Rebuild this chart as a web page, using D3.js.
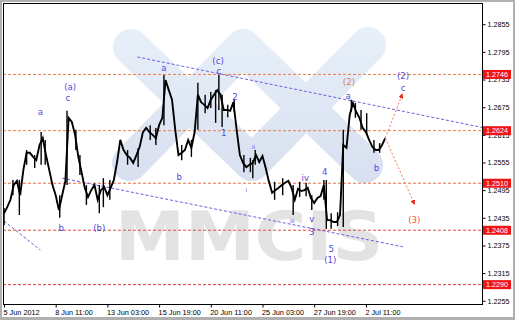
<!DOCTYPE html>
<html><head><meta charset="utf-8">
<script src="https://cdn.jsdelivr.net/npm/d3@7"></script>
<style>body{margin:0;background:#fff}svg{display:block}</style>
</head><body><svg id="c" width="515" height="320"></svg>
<script>
// ---- data ----
// closes sampled every 4 hourly bars, starting 5 Jun 2012
const closes = [
1.2445,1.2458,1.2474,1.2506,1.2515,1.2484,1.2539,1.2576,1.2576,1.2567,
1.2560,1.2593,1.2608,1.2571,1.2539,1.2506,1.2484,1.2452,1.2484,1.2515,
1.2652,1.2643,1.2615,1.2567,1.2534,1.2500,1.2480,1.2495,1.2506,1.2474,
1.2495,1.2502,1.2484,1.2500,1.2517,1.2556,1.2604,1.2582,1.2571,1.2565,
1.2554,1.2571,1.2589,1.2621,1.2630,1.2621,1.2615,1.2608,1.2636,1.2652,
1.2734,1.2712,1.2691,1.2626,1.2571,1.2576,1.2582,1.2604,1.2587,1.2621,
1.2702,1.2686,1.2680,1.2673,1.2691,1.2702,1.2712,1.2702,1.2669,1.2669,
1.2667,1.2686,1.2626,1.2571,1.2554,1.2545,1.2550,1.2554,1.2571,1.2556,
1.2569,1.2543,1.2513,1.2489,1.2495,1.2500,1.2506,1.2511,1.2515,1.2500,
1.2474,1.2498,1.2493,1.2495,1.2500,1.2478,1.2467,1.2478,1.2482,1.2506,
1.2430,1.2430,1.2426,1.2426,1.2441,1.2593,1.2587,1.2658,1.2684,1.2665,
1.2652,1.2630,1.2621,1.2604,1.2589,1.2582,1.2582,1.2593,1.2608
];
const barsPerClose = 4;
// [bar index, high, low]
const wicks = [
[0,1.2456,1.2419],[11,1.2517,1.2484],[19,1.2517,1.2441],[28,1.2582,1.2550],
[38,1.2571,1.2543],[46,1.2621,1.2550],[51,1.2604,1.2550],[69,1.2484,1.2435],
[78,1.2667,1.2506],[89,1.2626,1.2582],[94,1.2571,1.2528],[102,1.2506,1.2463],
[118,1.2506,1.2445],[123,1.2521,1.2458],[131,1.2517,1.2474],[153,1.2582,1.2550],
[166,1.2586,1.2545],[181,1.2636,1.2604],[188,1.2630,1.2593],[198,1.2745,1.2636],
[220,1.2593,1.2560],[232,1.2604,1.2567],[240,1.2728,1.2626],[249,1.2702,1.2662],
[256,1.2708,1.2673],[262,1.2712,1.2641],[266,1.2745,1.2669],[270,1.2702,1.2632],
[277,1.2680,1.2653],[285,1.2691,1.2665],[297,1.2571,1.2534],[305,1.2565,1.2534],
[308,1.2560,1.2521],[311,1.2582,1.2550],[335,1.2513,1.2474],[345,1.2521,1.2484],
[358,1.2506,1.2441],[366,1.2513,1.2480],[374,1.2511,1.2482],[381,1.2484,1.2452],
[396,1.2517,1.2474],[399,1.2517,1.2411],[405,1.2445,1.2411],[413,1.2447,1.2417],
[420,1.2626,1.2415],[430,1.2691,1.2665],[435,1.2684,1.2652],[442,1.2669,1.2626],
[449,1.2662,1.2615],[458,1.2604,1.2576],[465,1.2597,1.2576]
];
const levels = [1.2746,1.2624,1.2510,1.2408,1.2290];
const levelColors = ["#ec7e4c","#ec7e4c","#ea6c42","#e4523a","#e03a30"];
const yTicks = [1.2255,1.2315,1.2375,1.2435,1.2495,1.2555,1.2615,1.2675,1.2735,1.2795,1.2855];
const xTickBars = [0,64,128,192,256,320,384,448];
const xTickLabels = ["5 Jun 2012","8 Jun 11:00","13 Jun 03:00","15 Jun 19:00","20 Jun 11:00","25 Jun 03:00","27 Jun 19:00","2 Jul 11:00"];
const trendlines = [
  [[165,1.2784],[592,1.2631]],
  [[72,1.2521],[494,1.2372]],
  [[0,1.2428],[45,1.2365]]
];
const arrows = [
  [[472,1.2608],[493,1.2703]],
  [[472,1.2608],[508,1.2465]]
];
// [text, bar index, price, kind]
const waveLabels = [
["a",45,1.2665,"b"],["(a)",82,1.2719,"b"],["c",79,1.2695,"b"],
["a",198,1.2760,"b"],["(c)",265,1.2775,"b"],["c",266,1.2754,"b"],
["2",286,1.2697,"b"],["1",272,1.2619,"b"],["b",71,1.2413,"b"],
["(b)",118,1.2413,"b"],["b",217,1.2524,"b"],["i",300,1.2495,"s"],
["ii",309,1.2589,"s"],["iii",357,1.2427,"s"],["iv",373,1.2521,"b"],
["v",381,1.2433,"b"],["3",381,1.2404,"b"],["4",397,1.2534,"b"],
["5",405,1.2367,"b"],["(1)",404,1.2343,"b"],["(2)",427,1.2730,"o"],
["a",426,1.2699,"b"],["b",461,1.2543,"b"],["(2)",494,1.2743,"b"],
["c",494,1.2717,"b"],["(3)",508,1.2430,"r"]
];

// ---- drawing ----
const W=515,H=320, L=3,R=482,T=3,B=304;
const svg = d3.select('#c');
const defs = svg.append('defs');
svg.append('rect').attr('width',W).attr('height',H).attr('fill','#b0b0b0');
svg.append('rect').attr('x',2).attr('y',2).attr('width',511).attr('height',315).attr('fill','#fff');

const x = d3.scaleLinear().domain([0,592]).range([4,482.2]);
const y = d3.scaleLinear().domain([1.2248,1.2901]).range([B,T]);

defs.append('clipPath').attr('id','clip').append('rect')
  .attr('x',L).attr('y',T).attr('width',R-L).attr('height',B-T);
const g = svg.append('g').attr('clip-path','url(#clip)');

// watermark logo
const grad = defs.append('linearGradient').attr('id','lg')
  .attr('gradientUnits','userSpaceOnUse').attr('x1',0).attr('y1',30).attr('x2',0).attr('y2',185);
grad.append('stop').attr('offset',0).attr('stop-color','#e7eff9');
grad.append('stop').attr('offset',1).attr('stop-color','#d8e0f0');
const logoBars = [[131,47,252,163],[243,47,130,163],[243,47,365,165],[368,45,252,163]];
g.append('g').selectAll('line').data(logoBars).join('line')
  .attr('x1',d=>d[0]).attr('y1',d=>d[1]).attr('x2',d=>d[2]).attr('y2',d=>d[3])
  .attr('stroke','url(#lg)').attr('stroke-width',36).attr('stroke-linecap','round');
g.append('text').attr('x',115).attr('y',260).text('MMCIS')
  .attr('font-family','DejaVu Sans').attr('font-weight','bold').attr('font-size',68)
  .attr('textLength',268).attr('lengthAdjust','spacingAndGlyphs').attr('fill','#e3e3e3');

// levels
g.selectAll('.lvl').data(levels).join('line').attr('class','lvl')
  .attr('x1',L).attr('x2',R).attr('y1',d=>y(d)).attr('y2',d=>y(d))
  .attr('stroke',(d,i)=>levelColors[i]).attr('stroke-width',1).attr('stroke-dasharray','3,2');

// trendlines
g.selectAll('.tl').data(trendlines).join('line').attr('class','tl')
  .attr('x1',d=>x(d[0][0])).attr('y1',d=>y(d[0][1])).attr('x2',d=>x(d[1][0])).attr('y2',d=>y(d[1][1]))
  .attr('stroke','#6c5ee2').attr('stroke-width',1).attr('stroke-dasharray','3,2');

// price
g.selectAll('.wk').data(wicks).join('line').attr('class','wk')
  .attr('x1',d=>x(d[0])).attr('x2',d=>x(d[0])).attr('y1',d=>y(d[1])).attr('y2',d=>y(d[2]))
  .attr('stroke','#000').attr('stroke-width',1.4);
const line = d3.line().x((d,i)=>x(i*barsPerClose)).y(d=>y(d));
g.append('path').datum(closes).attr('d',line).attr('fill','none')
  .attr('stroke','#000').attr('stroke-width',1.9).attr('stroke-linejoin','miter');

// arrows
defs.append('marker').attr('id','ah').attr('viewBox','0 0 10 10').attr('refX',8).attr('refY',5)
  .attr('markerWidth',5).attr('markerHeight',5).attr('markerUnits','userSpaceOnUse').attr('orient','auto')
  .append('path').attr('d','M0,0L10,5L0,10z').attr('fill','#e8241c');
g.selectAll('.ar').data(arrows).join('line').attr('class','ar')
  .attr('x1',d=>x(d[0][0])).attr('y1',d=>y(d[0][1])).attr('x2',d=>x(d[1][0])).attr('y2',d=>y(d[1][1]))
  .attr('stroke','#f07c4c').attr('stroke-width',1).attr('stroke-dasharray','2,2')
  .attr('marker-end','url(#ah)');

// wave labels
const colorOf = {b:'#5546dc', s:'#5546dc', o:'#d6825e', r:'#ea5a36'};
g.selectAll('.wl').data(waveLabels).join('text').attr('class','wl')
  .attr('x',d=>x(d[1])).attr('y',d=>y(d[2])).attr('dy','0.35em').attr('text-anchor','middle')
  .attr('font-family','DejaVu Sans').attr('font-size',d=>d[3]==='s'?5.5:8.6)
  .attr('fill',d=>colorOf[d[3]]).text(d=>d[0]);

// frame
svg.append('rect').attr('x',L+0.5).attr('y',T+0.5).attr('width',R-L).attr('height',B-T)
  .attr('fill','none').attr('stroke','#000').attr('stroke-width',1);

// axes
const ya = svg.append('g').attr('transform',`translate(${R+0.5},0)`)
  .call(d3.axisRight(y).tickValues(yTicks).tickFormat(d=>d.toFixed(4)).tickSize(3));
ya.select('.domain').remove();
ya.selectAll('text').attr('font-family','Liberation Sans').attr('font-size',7.2).attr('fill','#000').attr('x',5);
ya.selectAll('line').attr('stroke','#000');

const xa = svg.append('g').attr('transform',`translate(0,${B+0.5})`)
  .call(d3.axisBottom(x).tickValues(xTickBars).tickFormat((d,i)=>xTickLabels[i]).tickSize(3));
xa.select('.domain').remove();
xa.selectAll('text').attr('font-family','Liberation Sans').attr('font-size',7.3).attr('fill','#000')
  .attr('text-anchor','start').attr('x',-1).attr('y',5);
xa.selectAll('line').attr('stroke','#000');

// red level tags
const tags = svg.append('g').selectAll('g').data(levels).join('g')
  .attr('transform',d=>`translate(${R+1},${y(d)})`);
tags.append('rect').attr('x',0).attr('y',-4.5).attr('width',28).attr('height',9).attr('fill','#f01414');
tags.append('text').attr('x',3).attr('dy','0.35em').attr('font-family','Liberation Sans')
  .attr('font-size',7.2).attr('fill','#fff').text(d=>d.toFixed(4));
</script></body></html>
